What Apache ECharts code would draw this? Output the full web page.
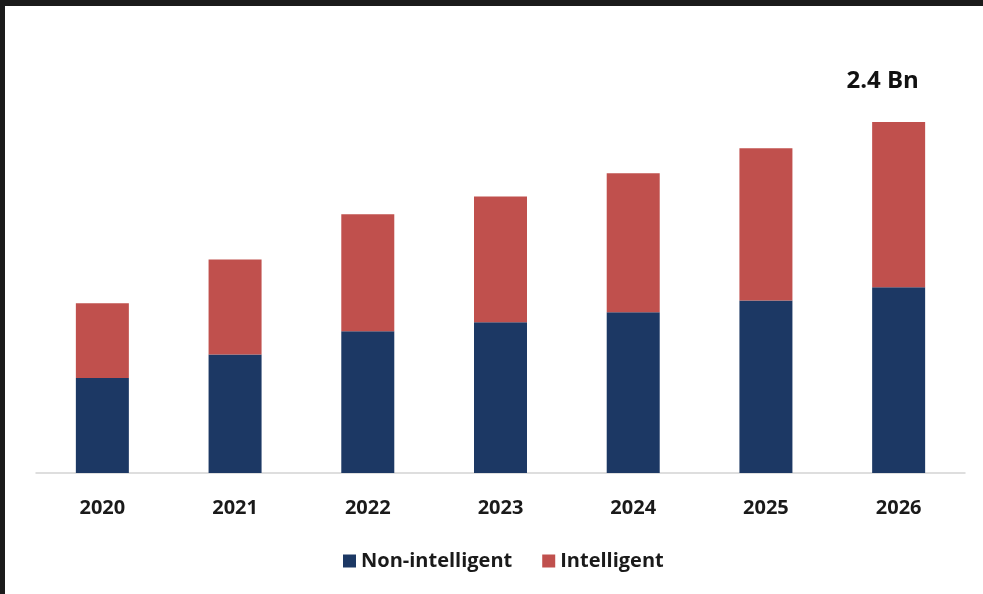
<!DOCTYPE html>
<html>
<head>
<meta charset="utf-8">
<script src="https://cdn.jsdelivr.net/npm/echarts@6/dist/echarts.min.js"></script>
<style>
html,body{margin:0;padding:0;background:#1b1b1b;width:983px;height:594px;overflow:hidden;}
#chart{position:absolute;left:5px;top:6px;width:978px;height:588px;background:#fff;}
</style>
</head>
<body>
<div id="chart"></div>
<script>
const categories = ['2020','2021','2022','2023','2024','2025','2026'];
const nonIntelligent = [0.65, 0.81, 0.97, 1.03, 1.10, 1.18, 1.27];
const intelligent = [0.51, 0.65, 0.80, 0.86, 0.95, 1.04, 1.13];
const topLabel = '2.4 Bn';

const chart = echarts.init(document.getElementById('chart'));
const font = '"Open Sans", sans-serif';
chart.setOption({
  animation: false,
  grid: {left: 31, right: 18, top: 116, bottom: 121},
  legend: {
    data: ['Non-intelligent', 'Intelligent'],
    top: 540,
    left: 333,
    itemWidth: 13, itemHeight: 13, itemGap: 30,
    icon: 'rect',
    textStyle: {fontFamily: font, fontWeight: 'bold', fontSize: 20, color: '#1a1a1a'}
  },
  xAxis: {
    type: 'category',
    data: categories,
    axisLine: {lineStyle: {color: '#d4d4d4', width: 1.5}},
    axisTick: {show: false},
    axisLabel: {margin: 25, fontFamily: font, fontWeight: 'bold', fontSize: 20, color: '#1a1a1a'}
  },
  yAxis: {type: 'value', min: 0, max: 2.4, show: false, splitLine: {show: false}},
  series: [
    {
      name: 'Non-intelligent', type: 'bar', stack: 't', barWidth: 53,
      itemStyle: {color: '#1c3864'},
      data: nonIntelligent
    },
    {
      name: 'Intelligent', type: 'bar', stack: 't', barWidth: 53,
      itemStyle: {color: '#c0504d'},
      data: intelligent.map((v, i) => i === intelligent.length - 1 ? {
        value: v,
        label: {show: true, position: 'top', distance: 29, offset: [-16, 0], formatter: topLabel,
          fontFamily: font, fontWeight: 'bold', fontSize: 24, color: '#111'}
      } : v)
    }
  ]
});
</script>
</body>
</html>
